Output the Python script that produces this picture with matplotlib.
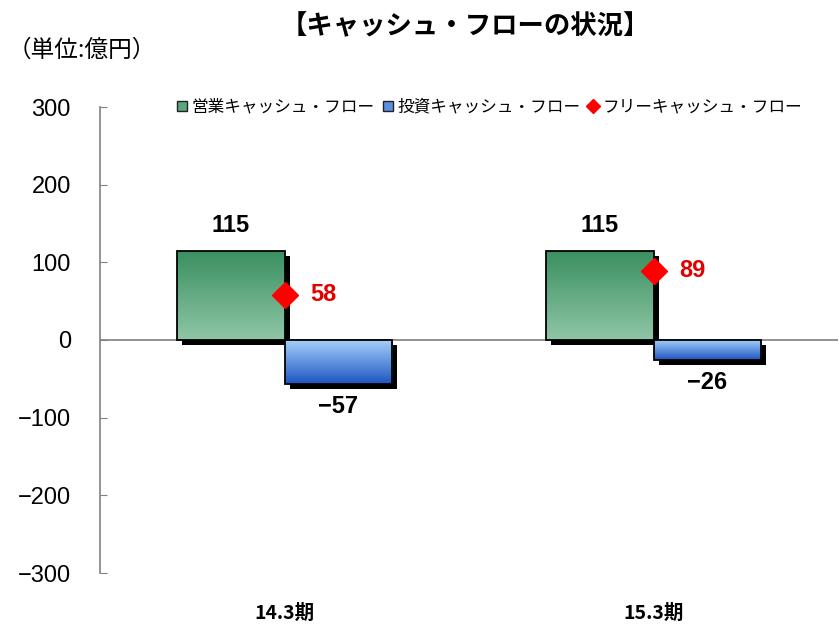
import matplotlib
matplotlib.use('Agg')
import matplotlib.pyplot as plt
import matplotlib.transforms as mtransforms
from matplotlib.colors import LinearSegmentedColormap
from matplotlib.patches import Rectangle
from matplotlib.lines import Line2D
import numpy as np

categories = ['14.3期', '15.3期']
operating_cf = [115, 115]
investing_cf = [-57, -26]
free_cf = [58, 89]
series_names = ['営業キャッシュ・フロー', '投資キャッシュ・フロー', 'フリーキャッシュ・フロー']
yticks = [300, 200, 100, 0, -100, -200, -300]

num_font = ['Liberation Sans', 'DejaVu Sans']
jp_font = ['Noto Sans CJK JP', 'DejaVu Sans']
plt.rcParams['font.family'] = num_font

green_cmap = LinearSegmentedColormap.from_list('g', ['#8fc6a6', '#3a8f60'])
blue_cmap = LinearSegmentedColormap.from_list('b', ['#1d56c2', '#a9d1fb'])

fig = plt.figure(figsize=(8.39, 6.31), dpi=100)
ax = fig.add_axes([100/839, 1-573/631, 738/839, (573-107)/631])
ax.set_xlim(-0.5, 1.5)
ax.set_ylim(-300, 300)

w = 0.29
x = np.arange(len(categories))
shadow_tr = ax.transData + mtransforms.ScaledTranslation(5/100, -5/100, fig.dpi_scale_trans)
grad = np.linspace(0, 1, 100).reshape(-1, 1)

def gradient_bar(x0, h, cmap):
    y0, y1 = min(0, h), max(0, h)
    sh = Rectangle((x0, y0), w, y1 - y0, facecolor='black', edgecolor='none',
                   transform=shadow_tr, zorder=2)
    ax.add_patch(sh)
    rect = Rectangle((x0, y0), w, y1 - y0, facecolor='none', edgecolor='black',
                     linewidth=1.3, zorder=4)
    ax.add_patch(rect)
    im = ax.imshow(grad, extent=[x0, x0 + w, y0, y1], origin='lower', aspect='auto',
                   cmap=cmap, zorder=3)
    im.set_clip_path(rect)

for i in range(len(categories)):
    gradient_bar(x[i] - w, operating_cf[i], green_cmap)
    gradient_bar(x[i], investing_cf[i], blue_cmap)
    ax.text(x[i] - w/2, operating_cf[i] + 18, str(operating_cf[i]), ha='center', va='bottom',
            fontsize=17, fontweight='bold')
    ax.text(x[i] + w/2, investing_cf[i] - 14, '\u2212' + str(abs(investing_cf[i])), ha='center',
            va='top', fontsize=17, fontweight='bold')
    ax.text(x[i] + 0.07, free_cf[i], str(free_cf[i]), ha='left', va='center',
            fontsize=17, fontweight='bold', color='#e00000', zorder=6)

ax.plot(x, free_cf, linestyle='none', marker='D', markersize=13, color='#ff0000', zorder=5)

ax.set_aspect('auto')
ax.set_xlim(-0.5, 1.5)
ax.set_ylim(-300, 300)
ax.axhline(0, color='#808080', linewidth=1.2, zorder=1)

for s in ['top', 'right', 'bottom']:
    ax.spines[s].set_visible(False)
ax.spines['left'].set_color('#808080')
ax.spines['left'].set_linewidth(1.2)

ax.set_yticks(yticks)
ax.set_yticklabels([('\u2212' + str(-v)) if v < 0 else str(v) for v in yticks], fontsize=17)
ax.tick_params(axis='y', direction='in', length=5, color='#808080', pad=21)
ax.set_xticks(x)
ax.set_xticklabels(categories, fontsize=14, fontweight='bold', family=jp_font)
ax.tick_params(axis='x', length=0, pad=22)

handles = [
    Line2D([], [], linestyle='none', marker='s', markersize=7, markerfacecolor='#5aa87c',
           markeredgecolor='#222222'),
    Line2D([], [], linestyle='none', marker='s', markersize=7, markerfacecolor='#5a8fe0',
           markeredgecolor='#222222'),
    Line2D([], [], linestyle='none', marker='D', markersize=7, color='#ff0000'),
]
ax.legend(handles, series_names, loc='center', bbox_to_anchor=(0.526, 1.0), ncol=3,
          frameon=False, prop={'family': jp_font, 'size': 12}, handletextpad=0.05,
          columnspacing=0.3, handlelength=1.0)

fig.text(465/839, 1-27/631, '【キャッシュ・フローの状況】', ha='center', va='center',
         fontsize=19, fontweight='bold', family=jp_font)
fig.text(8/839, 1-50/631, '（単位:億円）', ha='left', va='center', fontsize=17,
         family=jp_font)

fig.savefig('out.png', dpi=100)
